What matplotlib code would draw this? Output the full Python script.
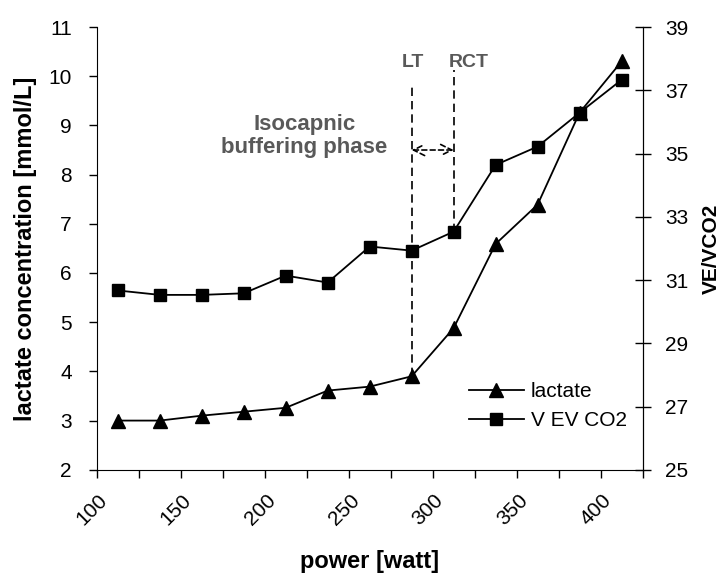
import numpy as np
import matplotlib.pyplot as plt
from matplotlib.ticker import MultipleLocator
from matplotlib.transforms import ScaledTranslation

plt.rcParams['font.family'] = ['Liberation Sans', 'DejaVu Sans']

# power steps (centres of 25 W categories)
power = [112.5, 137.5, 162.5, 187.5, 212.5, 237.5, 262.5, 287.5,
         312.5, 337.5, 362.5, 387.5, 412.5]
lactate = [3.0, 3.0, 3.1, 3.18, 3.26, 3.61, 3.69, 3.9, 4.88, 6.59, 7.39, 9.26, 10.3]
ve_vco2 = [30.67, 30.53, 30.53, 30.58, 31.14, 30.92, 32.06, 31.93, 32.53,
           34.64, 35.22, 36.29, 37.33]
x_ticks = [100, 150, 200, 250, 300, 350, 400]
right_ticks = [25, 27, 29, 31, 33, 35, 37, 39]

lt_power, rct_power = 287.5, 312.5
grey = '#595959'

fig = plt.figure(figsize=(7.22, 5.75), dpi=100)
ax = fig.add_axes([0.134, 0.183, 0.756, 0.770])
ax2 = ax.twinx()

l1, = ax.plot(power, lactate, color='black', lw=1.3, marker='^', ms=10.5,
              label='lactate', zorder=3)
l2, = ax2.plot(power, ve_vco2, color='black', lw=1.3, marker='s', ms=8.5,
               label='V EV CO2', zorder=3)

ax.set_xlim(100, 425)
ax.set_ylim(2, 11)
ax2.set_ylim(25, 39)

ax.set_xticks(x_ticks)
ax.xaxis.set_minor_locator(MultipleLocator(25))
ax.yaxis.set_major_locator(MultipleLocator(1))
ax2.set_yticks(right_ticks)

for a in (ax, ax2):
    a.spines['top'].set_visible(False)
ax2.spines['left'].set_visible(False)
ax2.spines['bottom'].set_visible(False)

ax.tick_params(axis='x', which='both', direction='out', length=6, width=1,
               labelsize=15, pad=14)
ax.tick_params(axis='y', direction='out', length=6, width=1, labelsize=15, pad=12)
ax2.tick_params(axis='y', direction='inout', length=12, width=1, labelsize=15, pad=10)
shift = ScaledTranslation(0.08, 0, fig.dpi_scale_trans)
for lab in ax.get_xticklabels():
    lab.set_rotation(45)
    lab.set_ha('right')
    lab.set_va('center')
    lab.set_rotation_mode('anchor')
    lab.set_transform(lab.get_transform() + shift)

ax.set_xlabel('power [watt]', fontsize=17, fontweight='bold', labelpad=15)
ax.set_ylabel('lactate concentration [mmol/L]', fontsize=17, fontweight='bold',
              labelpad=8)
ax2.set_ylabel('VE/VCO2', fontsize=15, fontweight='bold', labelpad=10)

# threshold lines
ax.plot([lt_power, lt_power], [lactate[7], 9.87], color='black', lw=1.2,
        ls=(0, (5, 3)), zorder=2)
rct_top = 2 + (ve_vco2[8] - 25) * 9 / 14
ax.plot([rct_power, rct_power], [rct_top, 10.13], color='black', lw=1.2,
        ls=(0, (5, 3)), zorder=2)
ax.annotate('', xy=(rct_power, 8.5), xytext=(lt_power, 8.5),
            arrowprops=dict(arrowstyle='<->', color='black', lw=1.2,
                            ls=(0, (3, 2)), shrinkA=0, shrinkB=0,
                            mutation_scale=20))

ax.text(288.3, 10.27, 'LT', color=grey, fontsize=14, fontweight='bold',
        ha='center', va='center')
ax.text(321.3, 10.27, 'RCT', color=grey, fontsize=14, fontweight='bold',
        ha='center', va='center')
ax.text(223.5, 8.79, 'Isocapnic\nbuffering phase', color=grey, fontsize=16,
        fontweight='bold', ha='center', va='center', linespacing=1.1)

ax.legend([l1, l2], ['lactate', 'V EV CO2'], loc='upper left',
          bbox_to_anchor=(0.649, 0.336), bbox_transform=fig.transFigure,
          frameon=False, fontsize=15, borderpad=0, borderaxespad=0,
          handlelength=2.65, handletextpad=0.34, labelspacing=0.5)

fig.savefig('out.png', dpi=100)
